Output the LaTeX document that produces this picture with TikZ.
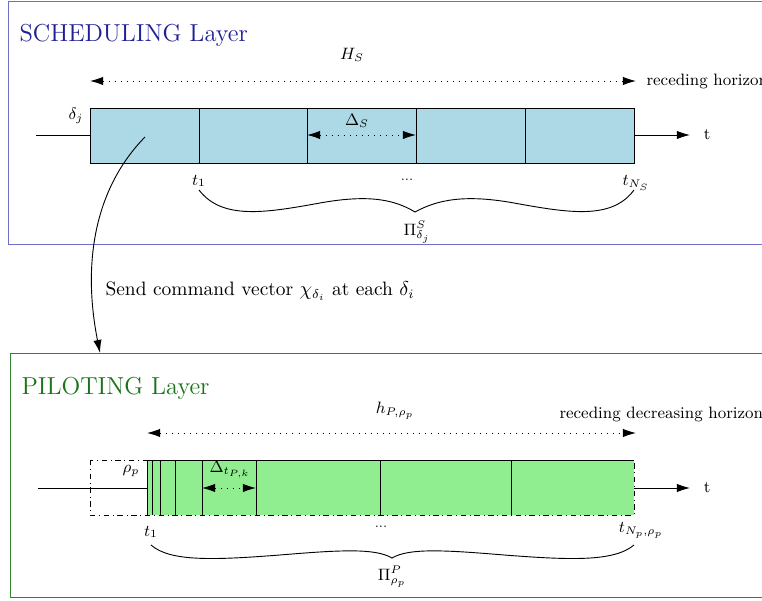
\documentclass[tikz,border=0pt]{standalone}
\usepackage[RGB]{xcolor}
\usetikzlibrary{arrows.meta}
\definecolor{S}{RGB}{173,216,230}
\definecolor{P}{RGB}{144,238,144}
\definecolor{Sline}{RGB}{110,110,200}
\definecolor{Stext}{RGB}{30,30,150}
\definecolor{Pline}{RGB}{50,130,50}
\definecolor{Ptext}{RGB}{25,115,25}
\newcommand{\horizon}[2]{\draw[dash pattern=on 0.5pt off 2.8pt,<->] (#1)--(#2);}
\newcommand{\timeaxis}[3]{\draw (#1)--(#2); \draw[->] (#3)--++(56,0) node[right=4pt] {\small t};}

\begin{document}
\begin{tikzpicture}[x=0.0192cm,y=-0.0192cm,>={Latex[length=2.5mm,width=1.6mm]},line width=0.5pt]
\clip (0,0) rectangle (762,601);
% scheduling layer
\draw[Sline] (8,1) rectangle (790,244);
\node[Stext,anchor=west,font=\fontsize{13.4}{16}\selectfont] (stitle) at (13,35) {SCHEDULING Layer};
\node (HS) at (352,55) {\small $H_S$};
\coordinate (hsl) at (90,81); \coordinate (hsr) at (636,81);
\horizon{hsl}{hsr}
\node[anchor=west,font=\small] (recS) at (640,81) {receding horizon};
\fill[S] (90,108) rectangle (634,163);
\foreach \x in {199,307,416,525} \draw (\x,108)--(\x,163);
\draw (90,108) coordinate (sbox) rectangle (634,163);
\coordinate (sl) at (36,135); \coordinate (sin) at (90,135); \coordinate (sout) at (634,135);
\timeaxis{sl}{sin}{sout}
\node (dj) at (76,116) {\small $\delta_j$};
\node (DS) at (357,121) {\small $\Delta_S$};
\coordinate (dsl) at (307,135); \coordinate (dsr) at (416,135);
\horizon{dsl}{dsr}
\node (st1) at (199,181) {\small $t_1$};
\node (sdots) at (407,180) {\scriptsize ...};
\node (stN) at (636,183) {\small $t_{N_S}$};
\draw (199,190) .. controls (222,220) and (265,213) .. (320,203) .. controls (370,194) and (395,200) .. (415,212)
      .. controls (437,200) and (464,194) .. (514,203) .. controls (569,213) and (612,220) .. (634,190);
\node (PiS) at (417,232) {\small $\Pi^S_{\delta_j}$};
% command to piloting layer
\coordinate (cmd) at (145,137); \coordinate (pil) at (100,353);
\draw[->] (cmd) .. controls (95,188) and (82,262) .. (pil);
\node[anchor=west,font=\fontsize{10.6}{13}\selectfont] (send) at (99,291) {Send command vector $\chi_{\delta_i}$ at each $\delta_i$};
% piloting layer
\draw[Pline] (10,353) rectangle (790,597);
\node[Ptext,anchor=west,font=\fontsize{13.4}{16}\selectfont] (ptitle) at (15,388) {PILOTING Layer};
\node (hP) at (395,411) {\small $h_{P,\rho_p}$};
\node[anchor=west,font=\small] (recP) at (553,414) {receding decreasing horizon};
\coordinate (hpl) at (147,433); \coordinate (hpr) at (636,433);
\horizon{hpl}{hpr}
\fill[P] (147,460) rectangle (634,515);
\foreach \x in {152,160,175,202,256,380,511} \draw (\x,460)--(\x,515);
\draw (147,515)--(147,460)--(634,460);
\draw[dash dot] (90,460) rectangle (634,515);
\coordinate (pl) at (38,488); \coordinate (pin) at (147,488); \coordinate (pout) at (634,488);
\timeaxis{pl}{pin}{pout}
\node (rho) at (131,471) {\small $\rho_p$};
\node (Dt) at (230,470) {\small $\Delta_{t_{P,k}}$};
\coordinate (dtl) at (202,488); \coordinate (dtr) at (256,488);
\horizon{dtl}{dtr}
\node (pt1) at (151,532) {\small $t_1$};
\node (pdots) at (381,527) {\scriptsize ...};
\node (ptN) at (641,530) {\small $t_{N_p,\rho_p}$};
\draw (151,545) .. controls (170,562) and (215,560) .. (280,555) .. controls (340,550) and (375,548) .. (392,558)
      .. controls (409,548) and (444,550) .. (504,555) .. controls (569,560) and (614,562) .. (634,545);
\node (PiP) at (392,577) {\small $\Pi^P_{\rho_p}$};
\end{tikzpicture}
\end{document}
